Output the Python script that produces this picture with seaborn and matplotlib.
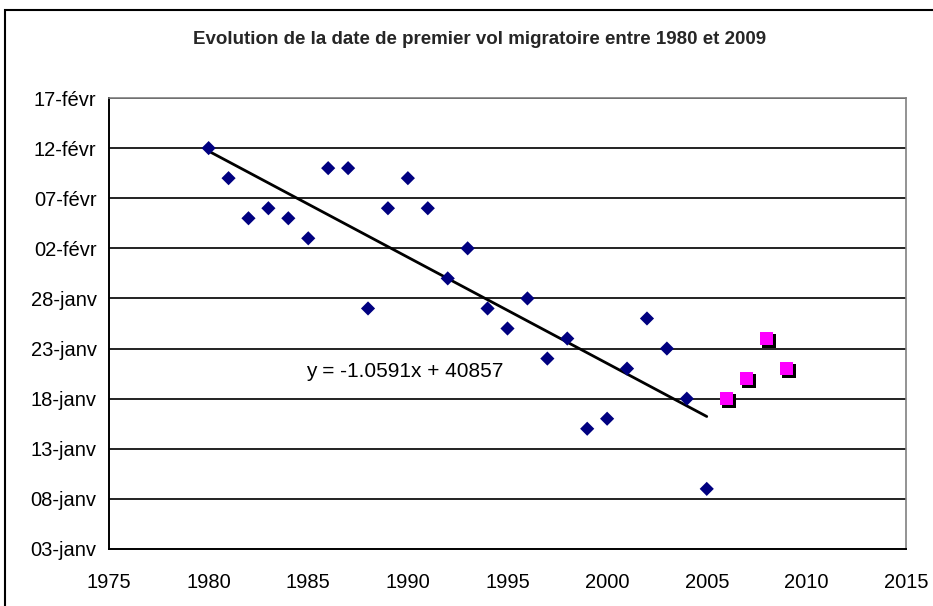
import numpy as np
import pandas as pd
import seaborn as sns
import matplotlib.pyplot as plt
import matplotlib.transforms as mtransforms
from matplotlib.patches import Rectangle

# years and first-flight day (day of year: 1 = 01-janv, 32 = 01-févr)
years_blue = [1980, 1981, 1982, 1983, 1984, 1985, 1986, 1987, 1988, 1989,
              1990, 1991, 1992, 1993, 1994, 1995, 1996, 1997, 1998, 1999,
              2000, 2001, 2002, 2003, 2004, 2005]
days_blue = [43, 40, 36, 37, 36, 34, 41, 41, 27, 37,
             40, 37, 30, 33, 27, 25, 28, 22, 24, 15,
             16, 21, 26, 23, 18, 9]
years_pink = [2006, 2007, 2008, 2009]
days_pink = [18, 20, 24, 21]

y_ticks = [3, 8, 13, 18, 23, 28, 33, 38, 43, 48]
y_labels = ["03-janv", "08-janv", "13-janv", "18-janv", "23-janv",
            "28-janv", "02-févr", "07-févr", "12-févr", "17-févr"]
x_ticks = [1975, 1980, 1985, 1990, 1995, 2000, 2005, 2010, 2015]

title = "Evolution de la date de premier vol migratoire entre 1980 et 2009"
equation = "y = -1.0591x + 40857"

df_blue = pd.DataFrame({"annee": years_blue, "jour": days_blue})
df_pink = pd.DataFrame({"annee": years_pink, "jour": days_pink})

sns.set_style("white")
plt.rcParams['font.family'] = ['Liberation Sans', 'DejaVu Sans']

fig = plt.figure(figsize=(9.33, 6.06), dpi=100)
ax = fig.add_axes([109 / 933, 1 - 549 / 606, 797 / 933, 451 / 606])

# grid lines behind data
for t in y_ticks[1:]:
    ax.axhline(t, color="#222222", lw=1.4, zorder=0)

sns.regplot(data=df_blue, x="annee", y="jour", ax=ax, ci=None, truncate=True,
            marker="D", color="#000080",
            scatter_kws={"s": 52, "edgecolors": "none", "alpha": 1, "zorder": 3},
            line_kws={"color": "black", "lw": 2, "zorder": 2})

# pink squares with a black shadow
shadow = mtransforms.offset_copy(ax.transData, fig=fig, x=2.5, y=-2.5, units="dots")
ax.scatter(df_pink["annee"], df_pink["jour"], marker="s", s=95, color="black",
           edgecolors="none", transform=shadow, zorder=3)
sns.scatterplot(data=df_pink, x="annee", y="jour", ax=ax, marker="s", s=95,
                color="#ff00ff", edgecolor="none", zorder=4)

ax.set_xlim(1975, 2015)
ax.set_ylim(3, 48)
ax.set_xticks(x_ticks)
ax.set_yticks(y_ticks)
ax.set_yticklabels(y_labels)
ax.set_xlabel("")
ax.set_ylabel("")
ax.tick_params(axis="both", direction="out", length=5, width=1.2, colors="black",
               labelsize=14.5, pad=4)
ax.tick_params(axis="x", pad=12)

for side in ["left", "bottom"]:
    ax.spines[side].set_color("black")
    ax.spines[side].set_linewidth(1.4)
for side in ["top", "right"]:
    ax.spines[side].set_color("#808080")
    ax.spines[side].set_linewidth(1.2)

ax.text(1984.9, 20.2, equation, fontsize=15, color="black", zorder=5)

fig.text(0.514, 1 - 40 / 606, title, ha="center", va="center",
         fontsize=13.5, fontweight="bold")

# outer chart frame
fig.patches.append(Rectangle((5 / 933, -0.05), 1.2, 1 - 10 / 606 + 0.05,
                             transform=fig.transFigure, fill=False,
                             edgecolor="black", lw=1.5))

fig.savefig("out.png", dpi=100)
